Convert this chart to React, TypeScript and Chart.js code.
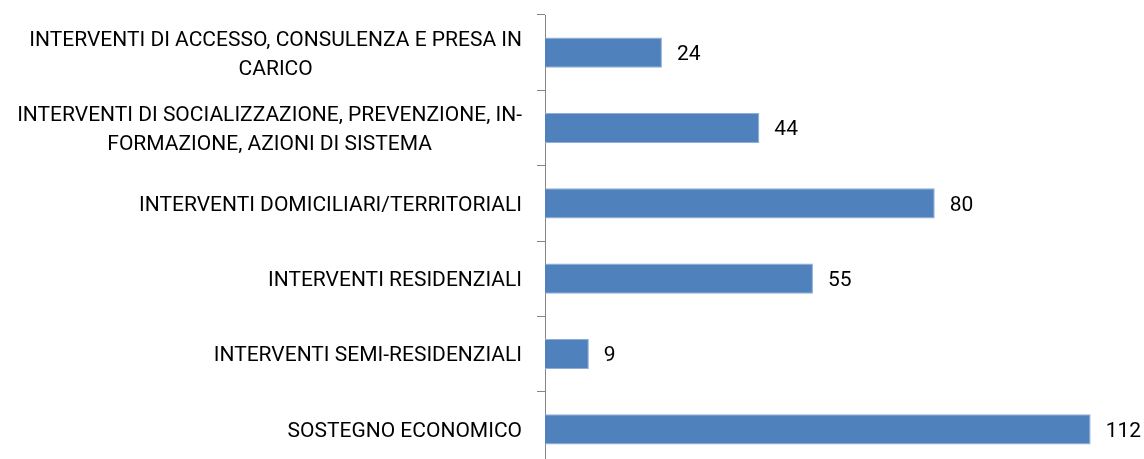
import React, { useEffect, useRef } from "react";
import { Chart, registerables } from "chart.js";

Chart.register(...registerables);

const categories: string[][] = [
  ["INTERVENTI DI ACCESSO, CONSULENZA E PRESA IN", "CARICO"],
  ["INTERVENTI DI SOCIALIZZAZIONE, PREVENZIONE, IN-", "FORMAZIONE, AZIONI DI SISTEMA"],
  ["INTERVENTI DOMICILIARI/TERRITORIALI"],
  ["INTERVENTI RESIDENZIALI"],
  ["INTERVENTI SEMI-RESIDENZIALI"],
  ["SOSTEGNO ECONOMICO"],
];
const values: number[] = [24, 44, 80, 55, 9, 112];
const axisMin = 0;
const axisMax = 120;

const FONT_SIZE = 21;
const FONT = `${FONT_SIZE}px Roboto`;
const CAP = 0.711;

const labelPlugin = {
  id: "customLabels",
  afterDatasetsDraw(chart: any) {
    const ctx = chart.ctx as CanvasRenderingContext2D;
    const y = chart.scales.y;
    ctx.save();
    ctx.font = FONT;
    ctx.fillStyle = "#000000";
    ctx.textBaseline = "alphabetic";
    const off = (CAP * FONT_SIZE) / 2;
    const right = y.right - 23;
    (chart.data.labels as any[]).forEach((lab, i) => {
      const cy = y.getPixelForValue(i);
      const lines: string[] = Array.isArray(lab) ? lab : [String(lab)];
      if (lines.length === 1) {
        ctx.textAlign = "right";
        ctx.fillText(lines[0], right, cy + off);
      } else {
        const w = Math.max(...lines.map((l) => ctx.measureText(l).width));
        const cx = right - w / 2;
        ctx.textAlign = "center";
        lines.forEach((l, k) => {
          ctx.fillText(l, cx, cy + off + (k - (lines.length - 1) / 2) * 29);
        });
      }
    });
    const meta = chart.getDatasetMeta(0);
    ctx.textAlign = "left";
    meta.data.forEach((bar: any, i: number) => {
      ctx.fillText(String(chart.data.datasets[0].data[i]), bar.x + 15, bar.y + off);
    });
    ctx.restore();
  },
};

export default function App() {
  const canvasRef = useRef<HTMLCanvasElement | null>(null);

  useEffect(() => {
    if (!canvasRef.current) return;
    const chart = new Chart(canvasRef.current, {
      type: "bar",
      data: {
        labels: categories as any,
        datasets: [
          {
            data: values,
            backgroundColor: "#4F81BD",
            borderColor: "#8FAEDA",
            borderWidth: 1,
            barPercentage: 0.4,
            categoryPercentage: 1,
          },
        ],
      },
      options: {
        indexAxis: "y",
        animation: false,
        responsive: true,
        maintainAspectRatio: false,
        layout: { padding: { top: 15, bottom: 0, right: 14.4, left: 0 } },
        plugins: {
          legend: { display: false },
          tooltip: { enabled: false },
        },
        scales: {
          x: { display: false, min: axisMin, max: axisMax },
          y: {
            ticks: { display: false },
            grid: {
              display: true,
              drawOnChartArea: false,
              drawTicks: true,
              tickLength: 8,
              color: "#868686",
              offset: true,
            },
            border: { color: "#868686", width: 1 },
            afterFit: (s: any) => {
              s.width = 545;
            },
          },
        },
      },
      plugins: [labelPlugin],
    });
    return () => chart.destroy();
  }, []);

  return (
    <div
      style={{
        position: "absolute",
        left: 0,
        top: 0,
        width: 1144,
        height: 459,
        overflow: "hidden",
        background: "#fff",
      }}
    >
      <div style={{ position: "relative", width: 1144, height: 467 }}>
        <canvas ref={canvasRef} />
      </div>
    </div>
  );
}
